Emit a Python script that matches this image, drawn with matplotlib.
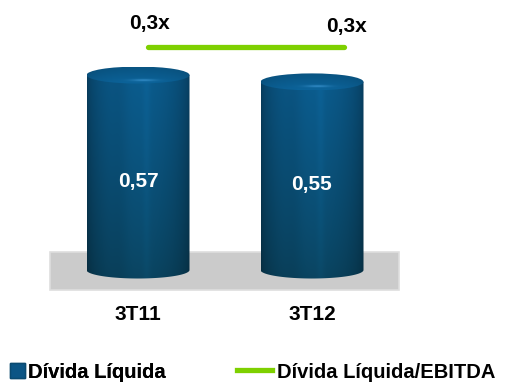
import numpy as np
import matplotlib
matplotlib.use("Agg")
import matplotlib.pyplot as plt
from matplotlib.patches import Polygon, Ellipse, Rectangle, Patch
from matplotlib.lines import Line2D

plt.rcParams['font.family'] = ['Liberation Sans', 'DejaVu Sans']
plt.rcParams['font.weight'] = 'bold'

# ---- data ----
categories = ["3T11", "3T12"]
divida_liquida = [0.57, 0.55]
divida_ebitda = [0.3, 0.3]
value_labels = ["0,57", "0,55"]
ratio_labels = ["0,3x", "0,3x"]
legend_labels = ["Dívida Líquida", "Dívida Líquida/EBITDA"]

W, H = 506, 383
fig = plt.figure(figsize=(W / 100, H / 100), dpi=100)
ax = fig.add_axes([0, 0, 1, 1])
ax.axis('off')

# pixel-mapped limits for the bar axes
px_x = 174.0
px_y = 342.0
x0_px = 138.0
y0_px = 270.0
xlim = (-x0_px / px_x, (W - x0_px) / px_x)
ylim = (-(H - y0_px) / px_y, y0_px / px_y)

bw = 103 / px_x          # cylinder width
eh = 8.5 / px_y          # ellipse half height

# floor
ax.add_patch(Rectangle(((50 - x0_px) / px_x, (y0_px - 290) / px_y),
                       (399 - 50) / px_x, 38 / px_y,
                       facecolor='#cbcbcb', edgecolor='#dedede', lw=1.2, zorder=1))

top_c = np.array([11, 92, 142]) / 255
bot_c = np.array([10, 68, 96]) / 255


def body_shade(t):
    s = 0.62 + 0.38 * np.sin(np.pi * t) ** 0.5
    s += 0.06 * np.exp(-((t - 0.58) / 0.035) ** 2)
    s -= 0.05 * np.exp(-((t - 0.32) / 0.08) ** 2)
    return s


def cylinder(xc, v):
    x0, x1 = xc - bw / 2, xc + bw / 2
    th = np.linspace(np.pi, 2 * np.pi, 80)
    bx = xc + bw / 2 * np.cos(th)
    by = eh * np.sin(th)
    verts = [(x0, v)] + list(zip(bx, by)) + [(x1, v)]
    poly = Polygon(verts, closed=True, fc='none', ec='none')
    ax.add_patch(poly)
    nx, ny = 240, 120
    t = np.linspace(0, 1, nx)
    s = np.linspace(0, 1, ny)
    base = bot_c[None, None, :] + (top_c - bot_c)[None, None, :] * (s[:, None, None] ** 0.8)
    img = np.clip(base * body_shade(t)[None, :, None], 0, 1)
    im = ax.imshow(img, extent=(x0, x1, -eh, v), origin='lower', aspect='auto',
                   interpolation='bilinear', zorder=2)
    im.set_clip_path(poly)
    # top ellipse
    ell = Ellipse((xc, v), bw, 2 * eh, fc='none', ec='none')
    ax.add_patch(ell)
    u = np.linspace(-1, 1, 80)
    back = np.array([9, 84, 130]) / 255
    front = np.array([12, 100, 155]) / 255
    base2 = back[None, None, :] + (front - back)[None, None, :] * ((1 - u[:, None, None]) / 2)
    ed = 0.85 + 0.15 * np.sin(np.pi * t) ** 0.4
    img2 = base2 * ed[None, :, None]
    hl = np.exp(-((t[None, :] - 0.55) / 0.12) ** 2) * np.exp(-((u[:, None] + 0.55) / 0.12) ** 2)
    hl_c = np.array([60, 150, 210]) / 255
    img2 = img2 * (1 - hl[:, :, None] * 0.8) + hl_c[None, None, :] * hl[:, :, None] * 0.8
    img2 = np.clip(img2, 0, 1)
    im2 = ax.imshow(img2, extent=(x0, x1, v - eh, v + eh), origin='lower', aspect='auto',
                    interpolation='bilinear', zorder=3)
    im2.set_clip_path(ell)


xs = np.arange(len(categories))
for i, v in enumerate(divida_liquida):
    cylinder(xs[i], v)
    ax.annotate(value_labels[i], xy=(xs[i], v / 2), xytext=(0, -9), textcoords='offset pixels',
                ha='center', va='center', color='white', fontsize=15, fontweight='bold', zorder=5)
    ax.annotate(categories[i], xy=(xs[i], 0), xytext=(0, -45), textcoords='offset pixels',
                ha='center', va='center', color='black', fontsize=15, fontweight='bold', zorder=5)

ax.set_xlim(*xlim)
ax.set_ylim(*ylim)

# ratio line axes
ax2 = fig.add_axes([0, 0, 1, 1], facecolor='none')
ax2.axis('off')
lx0, lsp = 148.0, 196.0
ax2.set_xlim(-lx0 / lsp, (W - lx0) / lsp)
ax2.set_ylim(0, 0.3 * H / 336.0)
green = '#7ed000'
ax2.plot(xs, divida_ebitda, color=green, lw=3.8, solid_capstyle='round')
offs = [(2, 23), (3, 20)]
for i, r in enumerate(divida_ebitda):
    ax2.annotate(ratio_labels[i], xy=(xs[i], r), xytext=offs[i], textcoords='offset pixels',
                 ha='center', va='center', fontsize=15, fontweight='bold', color='black')

# legends
h1 = Patch(facecolor='#0b5585', edgecolor='#0a4a70')
leg1 = fig.legend([h1], [legend_labels[0]], loc='center left',
                  bbox_to_anchor=(10 / W, 1 - 372 / H), frameon=False, borderpad=0,
                  borderaxespad=0, handlelength=0.75, handleheight=0.75, handletextpad=0.15,
                  prop={'size': 14.5, 'weight': 'bold'})
h2 = Line2D([0], [0], color=green, lw=3.8)
leg2 = fig.legend([h2], [legend_labels[1]], loc='center left',
                  bbox_to_anchor=(237 / W, 1 - 372 / H), frameon=False, borderpad=0,
                  borderaxespad=0, handlelength=1.75, handletextpad=0.25,
                  prop={'size': 14.5, 'weight': 'bold'})
fig.add_artist(leg1)

fig.savefig("out.png", dpi=100)
